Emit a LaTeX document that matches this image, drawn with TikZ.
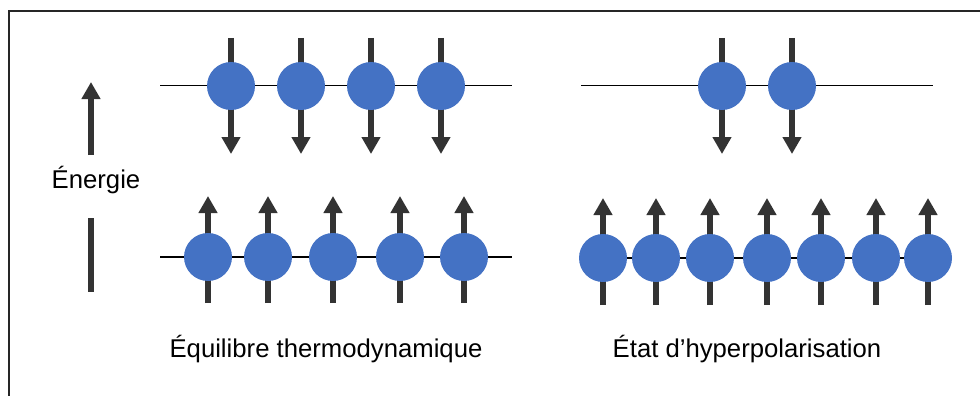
\documentclass[tikz,border=0pt]{standalone}
\usepackage{fontspec}
\setmainfont{Liberation Sans}
\usetikzlibrary{arrows.meta,backgrounds}
\definecolor{spinblue}{HTML}{4472C4}
\definecolor{spingray}{HTML}{333333}
\tikzset{
  spin/.style={draw=none,fill=spinblue,circle,minimum size=48pt,inner sep=0pt},
  spinarrow/.style={spingray,line width=6.5pt,-{Triangle[width=18pt,length=17pt]}},
  spinbar/.style={spingray,line width=6.5pt},
  level/.style={black,line width=1.5pt},
  lbl/.style={font=\fontsize{25.7}{30}\selectfont,anchor=base,inner sep=0pt},
}
\begin{document}
\begin{tikzpicture}[x=1pt,y=-1pt]
\useasboundingbox (0,0) rectangle (980,396);
\draw[line width=2pt,black!85] (9,397) -- (9,11.5) -- (981,11.5);

% top-left (thermodynamic, spin down)
\foreach \n/\x in {1/231,2/301,3/371,4/441}{\node[spin] (td\n) at (\x,86) {};}
% top-right (hyperpolarised, spin down)
\foreach \n/\x in {1/722,2/792}{\node[spin] (hd\n) at (\x,86) {};}
% bottom-left (spin up)
\foreach \n/\x in {1/208,2/268,3/333,4/400,5/464}{\node[spin] (tu\n) at (\x,257) {};}
% bottom-right (spin up)
\foreach \n/\x in {1/603,2/656,3/710,4/767,5/821,6/876,7/928}{\node[spin] (hu\n) at (\x,258) {};}

\coordinate (tlA) at (160,85.5); \coordinate (tlB) at (512,85.5);
\coordinate (trA) at (581,85.5); \coordinate (trB) at (933,85.5);
\coordinate (blA) at (160,257); \coordinate (blB) at (512,257);
\coordinate (brA) at (582,258); \coordinate (brB) at (930,258);

\begin{scope}[on background layer]
  \draw[level] (tlA) -- (tlB);
  \draw[level] (trA) -- (trB);
  \draw[level] (blA) -- (blB);
  \draw[level] (brA) -- (brB);
  \foreach \c in {td1,td2,td3,td4,hd1,hd2}{
    \draw[spinarrow] ([yshift=48pt]\c.center) -- ([yshift=-68pt]\c.center);}
  \foreach \c in {tu1,tu2,tu3,tu4,tu5}{
    \draw[spinarrow] ([yshift=-46pt]\c.center) -- ([yshift=61pt]\c.center);}
  \foreach \c in {hu1,hu2,hu3,hu4,hu5,hu6,hu7}{
    \draw[spinarrow] ([yshift=-47pt]\c.center) -- ([yshift=60pt]\c.center);}
\end{scope}

% energy axis
\node[lbl] (energie) at (96,188) {Énergie};
\coordinate (eA) at (91,155); \coordinate (eB) at (91,82);
\coordinate (eC) at (91,218); \coordinate (eD) at (91,292);
\draw[spinarrow] (eA) -- (eB);
\draw[spinbar] (eC) -- (eD);

\node[lbl] (eq) at (326,357) {Équilibre thermodynamique};
\node[lbl] (hp) at (747,357) {État d’hyperpolarisation};
\end{tikzpicture}
\end{document}
